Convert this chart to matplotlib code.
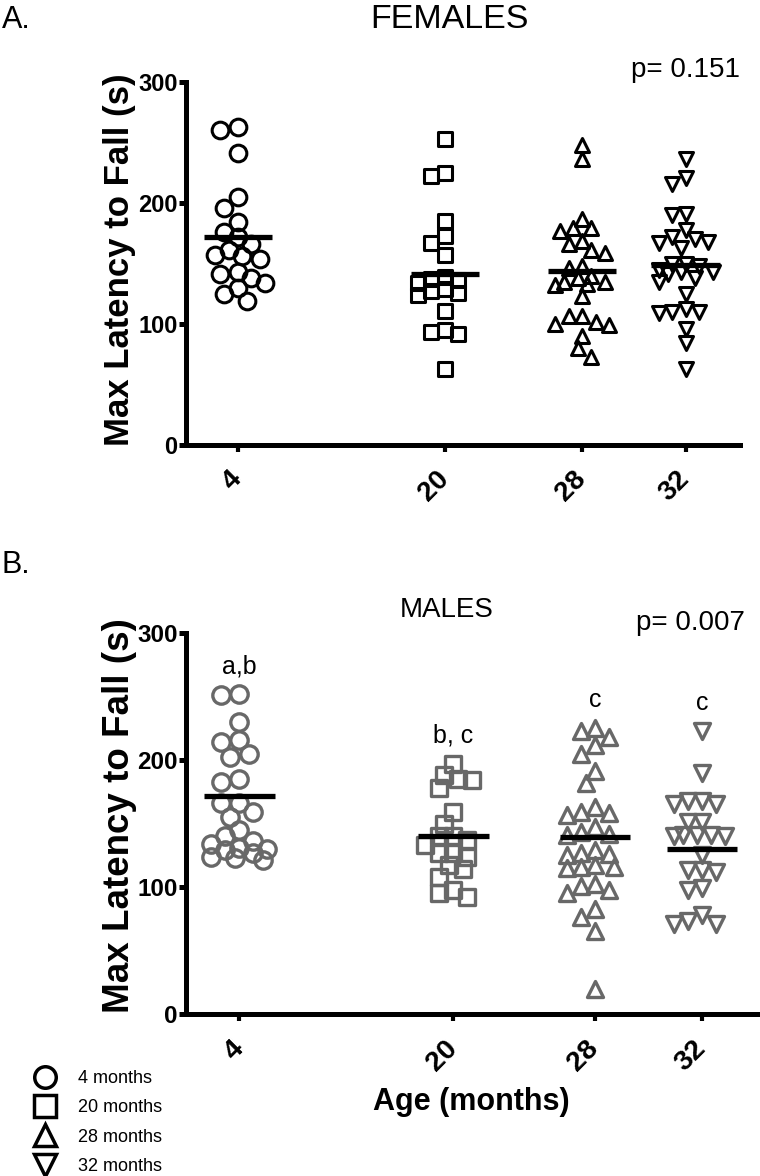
import numpy as np
import matplotlib
matplotlib.use("Agg")
import matplotlib.pyplot as plt
from matplotlib.lines import Line2D
from matplotlib.markers import MarkerStyle

plt.rcParams['font.family'] = ['Liberation Sans', 'DejaVu Sans']

# ---------------- data ----------------
ages = ["4", "20", "28", "32"]
age_pos = [1.0, 5.0, 7.65, 9.65]
markers = ["o", "s", "^", "v"]
legend_labels = ["4 months", "20 months", "28 months", "32 months"]

female_4 = [263, 260, 241, 205, 196, 184, 176, 172, 166, 161, 157, 156, 154, 143, 141, 138, 134, 130, 125, 119]
female_20 = [253, 225, 222, 185, 173, 167, 157, 139, 137, 136, 134, 129, 127, 126, 124, 111, 95, 93, 92, 63]
female_28 = [248, 236, 187, 179, 179, 177, 169, 166, 161, 159, 148, 146, 140, 138, 135, 135, 133, 132,
             123, 107, 107, 102, 100, 99, 90, 80, 73]
female_32 = [236, 221, 216, 191, 190, 178, 172, 170, 168, 167, 163, 150, 150, 148, 145, 143, 143, 141,
             138, 135, 125, 112, 110, 110, 109, 96, 84, 63]
female_means = [172, 141, 144, 149]

male_4 = [252, 251, 230, 216, 214, 205, 202, 185, 183, 166, 166, 159, 155, 145, 140, 136, 134, 131,
          130, 129, 127, 124, 123, 121]
male_20 = [197, 188, 185, 184, 178, 159, 150, 140, 140, 137, 133, 127, 127, 124, 117, 114, 108, 98, 95, 92]
male_28 = [225, 223, 218, 212, 205, 191, 182, 163, 159, 158, 157, 147, 143, 142, 141, 129, 127, 126,
           125, 117, 116, 116, 115, 102, 101, 98, 95, 83, 76, 65, 20]
male_32 = [223, 190, 168, 168, 165, 165, 151, 151, 141, 141, 141, 140, 140, 125, 113, 113, 112, 99, 98,
           78, 73, 71, 71]
male_means = [172, 140, 139, 130]

female_p = "p= 0.151"
male_p = "p= 0.007"
male_letters = ["a,b", "b, c", "c", "c"]

# ---------------- figure ----------------
W, H = 760, 1176
fig = plt.figure(figsize=(W / 100, H / 100), dpi=100)


def fx(px):
    return px / W


def fy(py):
    return 1 - py / H


def swarm(ax, xc, vals, diam_px, halfw_px):
    vals = np.asarray(vals, float)
    pts = ax.transData.transform(np.column_stack([np.full(len(vals), xc), vals]))
    ys = pts[:, 1]
    x0 = pts[0, 0]
    cands = np.linspace(-halfw_px, halfw_px, 13)
    cands = cands[np.argsort(np.abs(cands), kind="stable")]
    offs = np.zeros(len(vals))
    placed = []
    for i in np.argsort(-vals, kind="stable"):
        best_c, best_d = 0.0, -1.0
        for c in cands:
            if placed:
                d = min(np.hypot(c - ox, ys[i] - oy) for ox, oy in placed)
            else:
                d = np.inf
            if d >= diam_px:
                best_c = c
                break
            if d > best_d:
                best_d, best_c = d, c
        offs[i] = best_c
        placed.append((best_c, ys[i]))
    xs_disp = np.column_stack([x0 + offs, ys])
    return ax.transData.inverted().transform(xs_disp)[:, 0]


def style_axis(ax, fs_tick, fs_xtick):
    for s in ["top", "right"]:
        ax.spines[s].set_visible(False)
    for s in ["left", "bottom"]:
        ax.spines[s].set_linewidth(3.6)
    ax.set_ylim(0, 300)
    ax.set_xlim(0, 10.7)
    ax.set_yticks([0, 100, 200, 300])
    ax.set_xticks(age_pos)
    ax.set_xticklabels(ages, rotation=45, ha="right", va="center", rotation_mode="anchor")
    ax.tick_params(axis="y", length=5, width=3.6, pad=1, labelsize=fs_tick)
    ax.tick_params(axis="x", length=5, width=3, pad=17, labelsize=fs_xtick)
    for lab in ax.get_xticklabels() + ax.get_yticklabels():
        lab.set_fontweight("bold")


def draw_groups(ax, groups, means, color, ms_list, mew, halfw):
    for pos, vals, mk, ms, mn in zip(age_pos, groups, markers, ms_list, means):
        diam = ms * 100 / 72 * 0.85
        xs = swarm(ax, pos, vals, diam, halfw)
        ax.plot(xs, vals, linestyle="none",
                marker=MarkerStyle(mk, fillstyle="none", joinstyle="round"),
                markersize=ms, markeredgewidth=mew, markeredgecolor=color, zorder=3,
                clip_on=False)
        ax.hlines(mn, pos - 0.66, pos + 0.66, color="black", lw=3.8, zorder=4)


# Top panel (females)
ax1 = fig.add_axes([fx(186), fy(445), fx(554), (445 - 82) / H])
style_axis(ax1, 17, 20)
draw_groups(ax1, [female_4, female_20, female_28, female_32], female_means,
            "black", [12, 10, 10.5, 10.5], 2.2, 27)
ax1.set_ylabel("Max Latency to Fall (s)", fontsize=25, fontweight="bold", va="center")
ax1.yaxis.set_label_coords(-0.12, 0.511)

# Bottom panel (males)
ax2 = fig.add_axes([fx(186), fy(1014), fx(572), (1014 - 633) / H])
style_axis(ax2, 17.5, 20.5)
gray = "#686868"
male_groups = [male_4, male_20, male_28, male_32]
draw_groups(ax2, male_groups, male_means, gray, [12.5, 11, 11, 11], 2.4, 28)
ax2.set_ylabel("Max Latency to Fall (s)", fontsize=26.5, fontweight="bold", va="center")
ax2.yaxis.set_label_coords(-0.117, 0.52)
ax2.set_xlabel("Age (months)", fontsize=22, fontweight="bold", va="center")
ax2.xaxis.set_label_coords(0.498, -0.231)

for pos, vals, lab in zip(age_pos, male_groups, male_letters):
    ax2.text(pos, max(vals) + 22, lab, ha="center", va="center", fontsize=18)

# Titles / annotations
fig.text(fx(2), fy(20), "A.", fontsize=22, ha="left", va="center")
fig.text(fx(449), fy(20), "FEMALES", fontsize=24.5, ha="center", va="center")
fig.text(fx(740), fy(70), female_p, fontsize=20, ha="right", va="center")
fig.text(fx(2), fy(565), "B.", fontsize=22, ha="left", va="center")
fig.text(fx(447), fy(610), "MALES", fontsize=20, ha="center", va="center")
fig.text(fx(745), fy(623), male_p, fontsize=20, ha="right", va="center")

# Legend
handles = [Line2D([], [], linestyle="none",
                  marker=MarkerStyle(mk, fillstyle="none", joinstyle="miter"),
                  markersize=15.5, markeredgewidth=2.5, markeredgecolor="black")
           for mk in markers]
fig.legend(handles, legend_labels, loc="upper left",
           bbox_to_anchor=(fx(31.5), fy(1070)), frameon=False, fontsize=13,
           borderpad=0, borderaxespad=0, handlelength=1.5, handletextpad=1.08,
           labelspacing=0.68)

fig.savefig("out.png", dpi=100)
